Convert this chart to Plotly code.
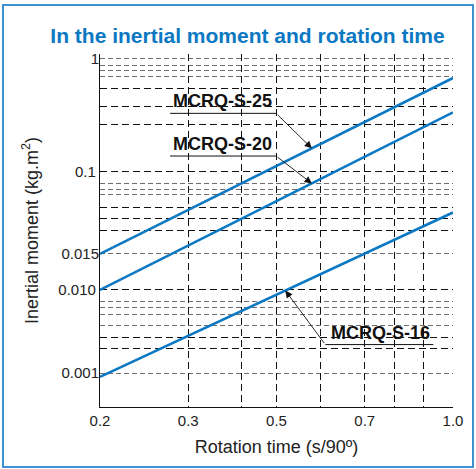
import numpy as np
import plotly.graph_objects as go

# ---------------- data ----------------
ROTATION_TIME = [0.2, 1.0]                 # s/90deg, ends of each straight line
SERIES = ["MCRQ-S-25", "MCRQ-S-20", "MCRQ-S-16"]
INERTIA_S25 = [0.015, 0.675]               # kg.m2
INERTIA_S20 = [0.010, 0.335]
INERTIA_S16 = [0.0009, 0.039]
LABEL_AT_TIME = [0.58, 0.58, 0.52]         # where each callout arrow touches its line

X_TICKS = [0.2, 0.3, 0.5, 0.7, 1.0]
X_TICK_TEXT = ["0.2", "0.3", "0.5", "0.7", "1.0"]
X_EXTRA_GRID = [0.42, 0.6, 0.8, 0.9]

Y_LABELED_BLACK = [0.1, 0.01]
Y_LABELED_BLACK_TEXT = ["0.1", "0.010"]
Y_LABELED_GRAY = [1.0, 0.015, 0.001]
Y_LABELED_GRAY_TEXT = ["1", "0.015", "0.001"]
Y_BLACK_GRID = [0.54, 0.38, 0.26, 0.044, 0.034, 0.0255, 0.0027, 0.00195]
Y_GRAY_GRID = [1.1, 1.0, 0.87, 0.78, 0.69, 0.076, 0.067, 0.059, 0.015,
               0.0072, 0.0061, 0.0051, 0.0037, 0.001]
X_RANGE = [0.2, 1.0]
Y_RANGE = [0.00039, 1.1]

# ---------------- scale of the printed chart ----------------
# The printed chart uses hand-drawn, non-uniform scales: the labelled x values
# are equally spaced and the y decades have different lengths.
X_SCALE_VALUES = [0.2, 0.3, 0.5, 0.7, 1.0]
X_SCALE_UNITS = [0, 1, 2, 3, 4]
Y_SCALE_VALUES = [0.001, 0.01, 0.015, 0.1, 1.0]
Y_SCALE_UNITS = [0, 83, 119, 201, 314]


def fx(v):
    return np.interp(np.asarray(v, float), X_SCALE_VALUES, X_SCALE_UNITS)


def fy(v):
    lv = np.log10(np.asarray(v, float))
    lx = np.log10(Y_SCALE_VALUES)
    u = np.asarray(Y_SCALE_UNITS, float)
    out = np.interp(lv, lx, u)
    lo_slope = (u[1] - u[0]) / (lx[1] - lx[0])
    hi_slope = (u[-1] - u[-2]) / (lx[-1] - lx[-2])
    out = np.where(lv < lx[0], u[0] + (lv - lx[0]) * lo_slope, out)
    out = np.where(lv > lx[-1], u[-1] + (lv - lx[-1]) * hi_slope, out)
    return out


FONT = "Liberation Sans, Arial, Helvetica, sans-serif"
BLUE = "#0b78c3"
series_values = [INERTIA_S25, INERTIA_S20, INERTIA_S16]

fig = go.Figure()
for name, vals in zip(SERIES, series_values):
    fig.add_trace(go.Scatter(
        x=fx(ROTATION_TIME), y=fy(vals), mode="lines", name=name,
        line=dict(color=BLUE, width=2.6),
        customdata=np.column_stack([ROTATION_TIME, vals]),
        hovertemplate=name + "<br>%{customdata[0]} s/90º<br>%{customdata[1]} kg.m²<extra></extra>",
        showlegend=False,
    ))
# carrier for the overlay axis that holds the remaining y labels
fig.add_trace(go.Scatter(x=[None], y=[None], yaxis="y2", showlegend=False, hoverinfo="skip"))

# callouts: (elbow dx, dy), underline x span, text shift  -- pixel offsets, y up
CALLOUTS = [
    dict(elbow=(-35.7, 35.0), under=(-141.7, -35.7), text=(-89.0, 47.0)),
    dict(elbow=(-35.7, 27.4), under=(-141.7, -35.7), text=(-89.0, 39.0)),
    dict(elbow=(40.0, -54.0), under=(40.0, 148.0), text=(95.0, -42.0)),
]
for name, vals, t, c in zip(SERIES, series_values, LABEL_AT_TIME, CALLOUTS):
    tx = float(fx(t))
    ty = float(np.interp(tx, fx(ROTATION_TIME), fy(vals)))
    ex, ey = c["elbow"]
    fig.add_annotation(x=tx, y=ty, text="", showarrow=True, ax=ex, ay=-ey,
                       arrowhead=2, arrowsize=1.6, arrowwidth=0.9, arrowcolor="#111")
    fig.add_annotation(x=tx, y=ty, text="<b>" + name + "</b>", showarrow=False,
                       xshift=c["text"][0], yshift=c["text"][1],
                       font=dict(family=FONT, size=18, color="#111"))
    fig.add_shape(type="line", xref="x", yref="y", xsizemode="pixel", ysizemode="pixel",
                  xanchor=tx, yanchor=ty, x0=c["under"][0], x1=c["under"][1],
                  y0=ey, y1=ey, line=dict(color="#111", width=1))

# outer frame
fig.add_shape(type="rect", xref="paper", yref="paper",
              x0=(3 - 100) / 353, x1=(473 - 100) / 353,
              y0=(407 - 467) / 353, y1=(407 - 5) / 353,
              line=dict(color="#3f92d2", width=2), layer="below")

yr = [float(fy(Y_RANGE[0])), float(fy(Y_RANGE[1]))]
fig.update_layout(
    width=476, height=469,
    margin=dict(l=100, r=23, t=54, b=62, autoexpand=False),
    paper_bgcolor="white", plot_bgcolor="white",
    font=dict(family=FONT, color="#222"),
    title=dict(text="<b>In the inertial moment and rotation time</b>",
               x=247.5 / 476, xref="container", xanchor="center",
               y=1 - 36 / 469, yref="container", yanchor="middle",
               font=dict(family=FONT, size=21, color=BLUE)),
    xaxis=dict(
        range=[float(fx(X_RANGE[0])), float(fx(X_RANGE[1]))],
        tickmode="array",
        tickvals=list(fx(X_TICKS + X_EXTRA_GRID)),
        ticktext=X_TICK_TEXT + [""] * len(X_EXTRA_GRID),
        showgrid=True, gridcolor="#111", griddash="7px,4px", gridwidth=1,
        showline=True, linecolor="#111", linewidth=1.3, mirror=False,
        ticks="", zeroline=False, tickfont=dict(size=15, color="#222"),
        title=dict(text="Rotation time (s/90º)", font=dict(size=18, color="#222"), standoff=12),
    ),
    yaxis=dict(
        range=yr,
        tickmode="array",
        tickvals=list(fy(Y_LABELED_BLACK + Y_BLACK_GRID)),
        ticktext=Y_LABELED_BLACK_TEXT + [""] * len(Y_BLACK_GRID),
        showgrid=True, gridcolor="#111", griddash="7px,4px", gridwidth=1,
        minor=dict(tickmode="array", tickvals=list(fy(Y_GRAY_GRID)), showgrid=True,
                   gridcolor="#6e6e6e", griddash="5px,3px", gridwidth=1.2, ticks=""),
        showline=True, linecolor="#111", linewidth=1.3,
        ticks="", zeroline=False, tickfont=dict(size=15, color="#222"),
        title=dict(text="Inertial moment (kg.m<sup>2</sup>)", font=dict(size=18, color="#222")),
    ),
    yaxis2=dict(
        range=yr, overlaying="y", side="left", anchor="x",
        tickmode="array", tickvals=list(fy(Y_LABELED_GRAY)), ticktext=Y_LABELED_GRAY_TEXT,
        showgrid=False, showline=False, zeroline=False, ticks="",
        tickfont=dict(size=15, color="#222"),
    ),
)

fig.write_html("out.html", config={"displayModeBar": False},
               post_script="document.body.style.margin='0';document.body.style.overflow='hidden';")
